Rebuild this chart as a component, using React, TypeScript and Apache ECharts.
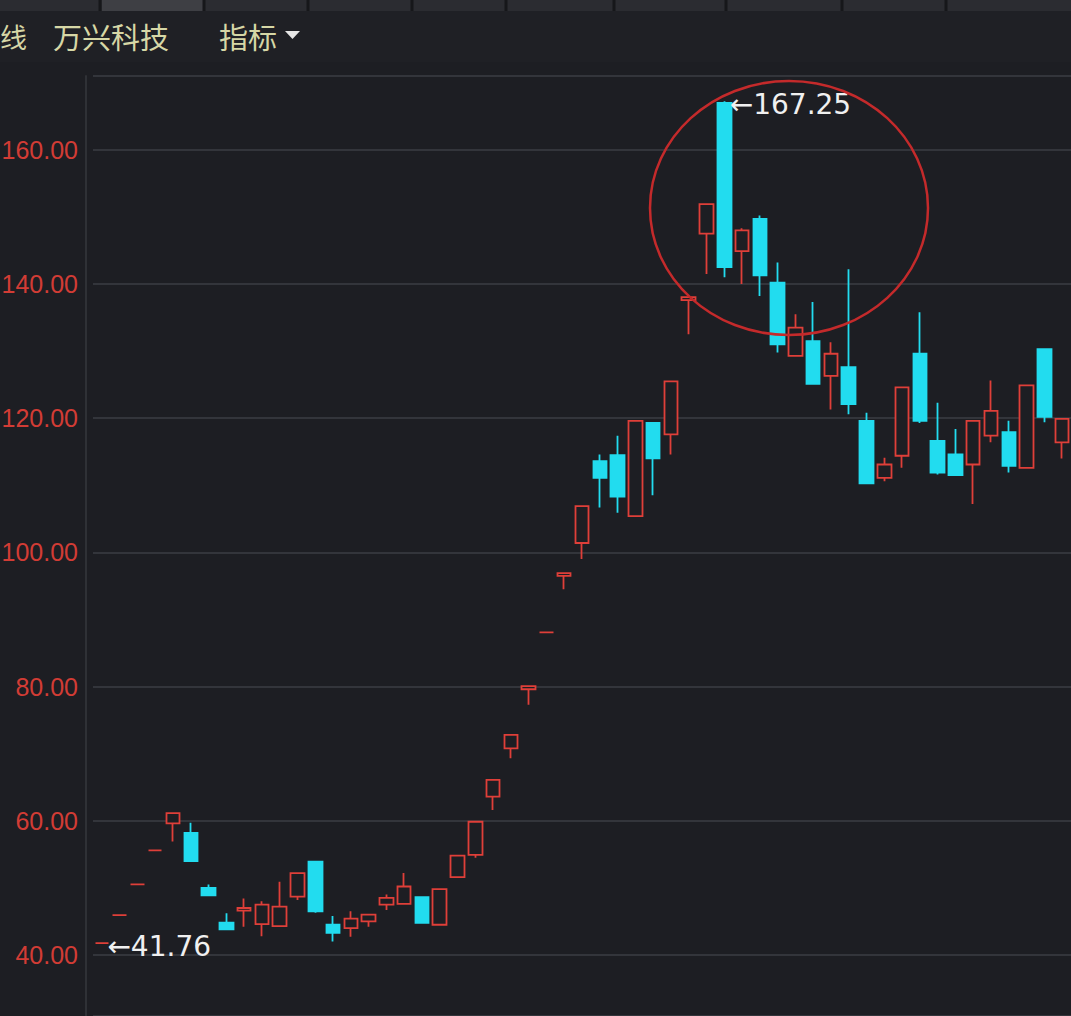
import React, { useEffect, useRef } from "react";
import * as echarts from "echarts";

// ---- data ----
const opens = [
  41.76, 45.94, 50.53, 55.58, 59.6, 58.2, 50.0, 44.8, 46.6, 44.6,
  44.3, 48.7, 53.9, 44.5, 44.0, 45.0, 47.5, 47.6, 48.6, 44.5,
  51.6, 54.9, 63.6, 70.8, 79.6, 88.09, 96.5, 101.4, 113.6, 114.5,
  105.4, 119.3, 117.6, 137.6, 147.5, 167.0, 144.9, 149.7, 140.2, 129.3,
  131.5, 126.3, 127.6, 119.6, 111.1, 114.4, 129.6, 116.6, 114.6, 113.1,
  117.4, 117.9, 112.6, 130.3, 116.4,
];
const closes = [
  41.76, 45.94, 50.53, 55.58, 61.14, 54.0, 48.9, 43.8, 47.0, 47.5,
  47.2, 52.2, 46.5, 43.3, 45.4, 46.0, 48.5, 50.2, 44.8, 49.8,
  54.8, 59.85, 66.1, 72.8, 80.08, 88.09, 96.9, 106.9, 111.1, 108.3,
  119.6, 114.0, 125.5, 138.05, 151.9, 142.5, 148.0, 141.3, 131.0, 133.5,
  125.1, 129.6, 122.1, 110.3, 113.1, 124.6, 119.6, 111.9, 111.5, 119.6,
  121.1, 112.9, 124.9, 120.2, 119.9,
];
const lows = [
  41.76, 45.94, 50.53, 55.58, 56.9, 53.9, 48.8, 43.7, 44.2, 42.8,
  44.2, 48.2, 46.3, 42.0, 42.7, 44.2, 46.7, 47.5, 44.7, 44.4,
  51.5, 54.5, 61.6, 69.3, 77.3, 88.09, 94.5, 99.0, 106.7, 105.9,
  105.3, 108.5, 114.6, 132.5, 141.5, 141.0, 140.0, 138.2, 129.8, 129.2,
  125.0, 121.3, 120.6, 110.2, 110.6, 112.6, 119.3, 111.6, 111.4, 107.2,
  116.4, 111.9, 112.5, 119.4, 114.0,
];
const highs = [
  41.76, 45.94, 50.53, 55.58, 61.14, 59.7, 50.5, 46.2, 48.4, 48.0,
  50.9, 52.3, 54.0, 45.8, 46.5, 46.1, 49.0, 52.2, 48.7, 49.9,
  54.9, 60.0, 66.2, 72.9, 80.08, 88.09, 96.9, 107.0, 114.6, 117.4,
  119.7, 119.4, 125.6, 138.05, 152.0, 167.25, 148.3, 150.2, 143.2, 135.5,
  137.3, 131.3, 142.2, 120.8, 114.1, 124.7, 135.8, 122.3, 118.4, 119.7,
  125.6, 119.6, 125.0, 130.4, 120.0,
];
const days = opens.map((_, i) => "D" + (i + 1));
const yTickValues = [40, 60, 80, 100, 120, 140, 160];
const yMin = 30.9;
const yMax = 171;
const headerTexts = ["线", "万兴科技", "指标"];
const maxIndex = 35;
const maxValue = 167.25;
const minIndex = 0;
const minValue = 41.76;

const BG = "#1d1e23";
const RED = "#df3f39";
const CYAN = "#22dcef";

export default function App() {
  const ref = useRef<HTMLDivElement>(null);

  useEffect(() => {
    if (!ref.current) return;
    const chart = echarts.init(ref.current, null, { renderer: "svg" });
    const data = opens.map((o, i) => [o, closes[i], lows[i], highs[i]]);

    const tabSeps = [100, 204, 308, 412, 506, 614, 726, 842, 946];

    chart.setOption({
      animation: false,
      backgroundColor: BG,
      grid: {
        left: 93,
        right: 0,
        top: 76,
        bottom: 0,
        containLabel: false,
        outerBoundsMode: "none",
      },
      xAxis: {
        type: "category",
        data: days,
        boundaryGap: true,
        axisLine: { show: false },
        axisTick: { show: false },
        axisLabel: { show: false },
        splitLine: { show: false },
      },
      yAxis: {
        type: "value",
        min: yMin,
        max: yMax,
        splitNumber: 7,
        offset: 7,
        axisLine: { show: true, lineStyle: { color: "#2f3136", width: 2 } },
        axisTick: { show: false },
        axisLabel: {
          color: "#d23c35",
          fontSize: 25,
          fontFamily: "Liberation Sans",
          margin: 8,
          showMinLabel: false,
          showMaxLabel: false,
          formatter: (v: number) =>
            yTickValues.some((t) => Math.abs(t - v) < 1e-6) ? v.toFixed(2) : "",
        },
        splitLine: { show: true, lineStyle: { color: "#33353b", width: 2 } },
      },
      series: [
        {
          type: "candlestick",
          data,
          barWidth: 14,
          itemStyle: {
            color: BG,
            color0: CYAN,
            borderColor: RED,
            borderColor0: CYAN,
            borderColorDoji: RED,
            borderWidth: 1.8,
          },
          markPoint: {
            symbol: "rect",
            symbolSize: [1, 1],
            itemStyle: { color: "rgba(0,0,0,0)" },
            label: {
              show: true,
              position: "right",
              distance: 5,
              offset: [0, 3],
              color: "#f0f0f0",
              fontSize: 28,
              fontFamily: "DejaVu Sans",
              formatter: (p: any) => "←" + p.value,
            },
            data: [
              { coord: [days[maxIndex], maxValue], value: maxValue.toFixed(2) },
              { coord: [days[minIndex], minValue], value: minValue.toFixed(2) },
            ],
          },
        },
      ],
      graphic: [
        {
          type: "rect",
          shape: { x: 0, y: 0, width: 1071, height: 62 },
          style: { fill: "#1f2025" },
          z: 1,
        },
        {
          type: "rect",
          shape: { x: 0, y: 0, width: 1071, height: 11 },
          style: { fill: "#2b2c31" },
          z: 2,
        },
        {
          type: "rect",
          shape: { x: 102, y: 0, width: 101, height: 11 },
          style: { fill: "#3e3f44" },
          z: 3,
        },
        ...tabSeps.map((x) => ({
          type: "rect",
          shape: { x: x - 1.5, y: 0, width: 3, height: 11 },
          style: { fill: "#16171a" },
          z: 4,
        })),
        {
          type: "text",
          x: 0,
          y: 36,
          style: {
            text: headerTexts[0],
            fill: "#d6d7a6",
            fontSize: 27,
            fontFamily: "Noto Sans CJK SC",
            verticalAlign: "middle",
          },
          z: 5,
        },
        {
          type: "text",
          x: 53,
          y: 36,
          style: {
            text: headerTexts[1],
            fill: "#d6d7a6",
            fontSize: 29,
            fontFamily: "Noto Sans CJK SC",
            verticalAlign: "middle",
          },
          z: 5,
        },
        {
          type: "text",
          x: 219,
          y: 36,
          style: {
            text: headerTexts[2],
            fill: "#d6d7a6",
            fontSize: 29,
            fontFamily: "Noto Sans CJK SC",
            verticalAlign: "middle",
          },
          z: 5,
        },
        {
          type: "polygon",
          shape: { points: [[285, 31], [300, 31], [292.5, 39]] },
          style: { fill: "#e6e6e6" },
          z: 5,
        },
        {
          type: "ellipse",
          shape: { cx: 789, cy: 208, rx: 139, ry: 127 },
          style: { fill: "none", stroke: "#c42a2b", lineWidth: 2.5 },
          z: 100,
        },
      ],
    });

    return () => chart.dispose();
  }, []);

  return (
    <div
      ref={ref}
      style={{ position: "fixed", left: 0, top: 0, width: 1071, height: 1016 }}
    />
  );
}
